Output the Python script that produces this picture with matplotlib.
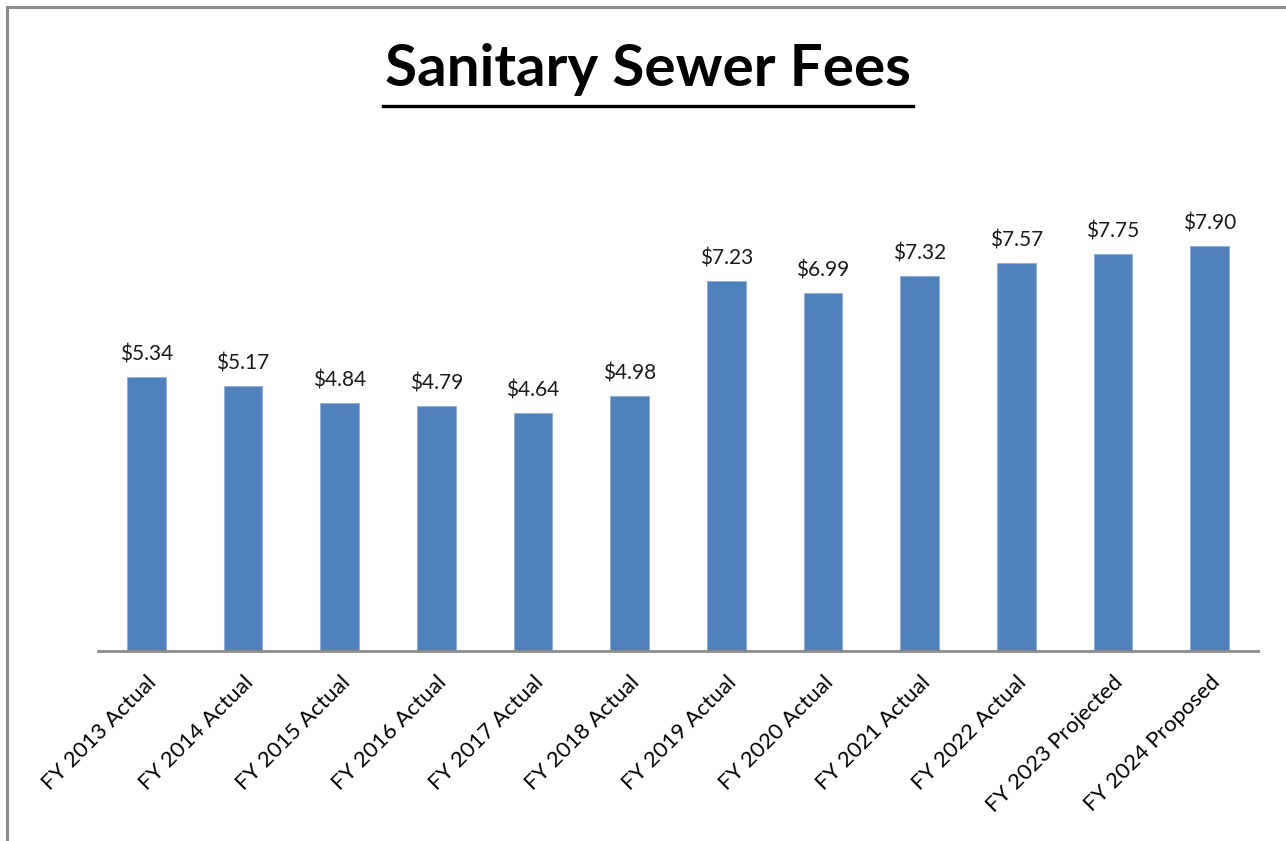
import matplotlib.pyplot as plt
from matplotlib.patches import Rectangle

categories = ['FY 2013 Actual', 'FY 2014 Actual', 'FY 2015 Actual', 'FY 2016 Actual',
              'FY 2017 Actual', 'FY 2018 Actual', 'FY 2019 Actual', 'FY 2020 Actual',
              'FY 2021 Actual', 'FY 2022 Actual', 'FY 2023 Projected', 'FY 2024 Proposed']
fees = [5.34, 5.17, 4.84, 4.79, 4.64, 4.98, 7.23, 6.99, 7.32, 7.57, 7.75, 7.90]

W, H = 1286, 841
fig = plt.figure(figsize=(W / 100, H / 100), dpi=100)
plt.rcParams['font.family'] = ['Lato', 'DejaVu Sans']

# chart frame (grey border, left and top visible)
fig.patches.append(Rectangle((7 / W, -0.1), 1.2, (H - 7) / H + 0.1, transform=fig.transFigure,
                             fill=False, edgecolor='#8c8c8c', linewidth=2.2))

ax = fig.add_axes([98 / W, (H - 651) / H, (1258 - 98) / W, (651 - 190) / H])
x = range(len(fees))
bars = ax.bar(x, fees, width=0.4, color='#4f81bd', edgecolor='#8eb0d8', linewidth=0.6)
ax.set_xlim(-0.5, len(fees) - 0.5)
ax.set_ylim(0, 9)

for xi, v in zip(x, fees):
    ax.annotate(f'${v:.2f}', (xi, v), xytext=(0, 9), textcoords='offset points',
                ha='center', va='bottom', fontsize=15, color='#1a1a1a')

for s in ['top', 'right', 'left']:
    ax.spines[s].set_visible(False)
ax.spines['bottom'].set_color('#8c8c8c')
ax.spines['bottom'].set_linewidth(2)
ax.set_yticks([])
ax.set_xticks(list(x))
ax.set_xticklabels(categories, rotation=45, ha='right', va='top', rotation_mode='anchor',
                   fontsize=16, color='black')
ax.tick_params(axis='x', length=0, pad=15)

t = fig.text(648 / W, 1 - 70 / H, 'Sanitary Sewer Fees', ha='center', va='center',
             fontsize=42, fontweight='bold', color='black')
fig.add_artist(plt.Line2D([383 / W, 913 / W], [1 - 106 / H, 1 - 106 / H],
                          transform=fig.transFigure, color='black', linewidth=2.4))

fig.savefig('out.png', dpi=100)
